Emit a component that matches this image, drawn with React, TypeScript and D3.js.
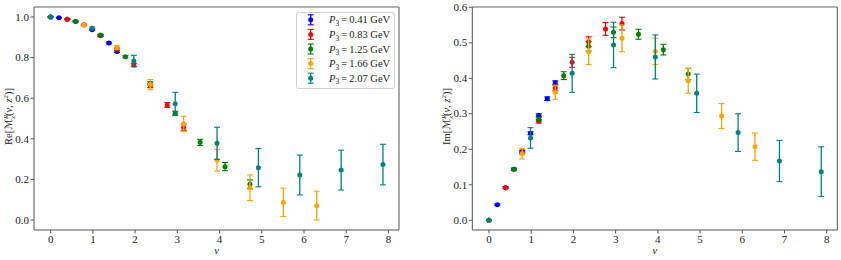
import React from "react";
import * as d3 from "d3";

const seriesNames = ["0.41", "0.83", "1.25", "1.66", "2.07"];
const seriesColors = ["blue", "red", "green", "orange", "teal"];

const nuBlue = [0, 0.197, 0.394, 0.59, 0.787, 0.984, 1.18, 1.38, 1.57];
const nuRed = [0, 0.394, 0.787, 1.18, 1.57, 1.97, 2.36, 2.76, 3.15];
const nuGreen = [0, 0.59, 1.18, 1.77, 2.36, 2.95, 3.54, 4.13, 4.72];
const nuOrange = [0, 0.787, 1.57, 2.36, 3.15, 3.94, 4.72, 5.51, 6.3];
const nuTeal = [0, 0.984, 1.97, 2.95, 3.94, 4.92, 5.9, 6.88, 7.87];

const reBlue = [1.0, 0.9966, 0.989, 0.978, 0.961, 0.9375, 0.908, 0.872, 0.83];
const reBlueErr = [0.001, 0.002, 0.002, 0.002, 0.003, 0.003, 0.004, 0.004, 0.005];
const reRed = [1.0, 0.989, 0.96, 0.909, 0.842, 0.7635, 0.662, 0.5665, 0.457];
const reRedErr = [0.001, 0.002, 0.003, 0.004, 0.006, 0.008, 0.01, 0.012, 0.015];
const reGreen = [1.0, 0.979, 0.911, 0.8045, 0.673, 0.5255, 0.3826, 0.263, 0.176];
const reGreenErr = [0.001, 0.003, 0.004, 0.005, 0.008, 0.01, 0.015, 0.02, 0.022];
const reOrange = [1.0, 0.961, 0.849, 0.667, 0.473, 0.294, 0.159, 0.087, 0.071];
const reOrangeErr = [0.002, 0.005, 0.01, 0.025, 0.038, 0.053, 0.063, 0.07, 0.071];
const reTeal = [1.0, 0.944, 0.783, 0.573, 0.378, 0.258, 0.222, 0.246, 0.273];
const reTealErr = [0.002, 0.006, 0.028, 0.056, 0.079, 0.094, 0.098, 0.098, 0.1];

const imBlue = [0, 0.044, 0.092, 0.1437, 0.194, 0.245, 0.2957, 0.3426, 0.3877];
const imBlueErr = [0.001, 0.002, 0.002, 0.003, 0.003, 0.004, 0.004, 0.005, 0.005];
const imRed = [0, 0.0918, 0.19, 0.279, 0.3727, 0.445, 0.503, 0.539, 0.554];
const imRedErr = [0.001, 0.002, 0.004, 0.005, 0.008, 0.014, 0.014, 0.018, 0.018];
const imGreen = [0, 0.1437, 0.2853, 0.4074, 0.49, 0.5295, 0.524, 0.4807, 0.412];
const imGreenErr = [0.001, 0.003, 0.005, 0.011, 0.013, 0.015, 0.014, 0.015, 0.016];
const imOrange = [0, 0.1877, 0.3606, 0.475, 0.5127, 0.476, 0.393, 0.2938, 0.2074];
const imOrangeErr = [0.001, 0.015, 0.02, 0.036, 0.038, 0.037, 0.035, 0.035, 0.0385];
const imTeal = [0, 0.232, 0.414, 0.4938, 0.46, 0.3577, 0.247, 0.167, 0.137];
const imTealErr = [0.001, 0.029, 0.0535, 0.064, 0.062, 0.054, 0.053, 0.058, 0.07];

const xTicks = [0, 1, 2, 3, 4, 5, 6, 7, 8];
const reTicks = [0, 0.2, 0.4, 0.6, 0.8, 1.0];
const imTicks = [0, 0.1, 0.2, 0.3, 0.4, 0.5, 0.6];

const nus = [nuBlue, nuRed, nuGreen, nuOrange, nuTeal];
const reVals = [reBlue, reRed, reGreen, reOrange, reTeal];
const reErrs = [reBlueErr, reRedErr, reGreenErr, reOrangeErr, reTealErr];
const imVals = [imBlue, imRed, imGreen, imOrange, imTeal];
const imErrs = [imBlueErr, imRedErr, imGreenErr, imOrangeErr, imTealErr];

const FONT = "'Liberation Serif', 'DejaVu Serif', serif";

type PanelProps = {
  x0: number;
  x1: number;
  yDomain: [number, number];
  yTicks: number[];
  vals: number[][];
  errs: number[][];
  labelX: number;
  prefix: string;
  legend?: boolean;
};

function Panel({ x0, x1, yDomain, yTicks, vals, errs, labelX, prefix, legend }: PanelProps) {
  const top = 7;
  const bottom = 230;
  const x = d3.scaleLinear().domain([-0.395, 8.25]).range([x0, x1]);
  const y = d3.scaleLinear().domain(yDomain).range([bottom, top]);
  const cap = 3;
  return (
    <g>
      {nus.map((nu, si) => (
        <g key={si}>
          {nu.map((n, i) => {
            const v = vals[si][i];
            const e = errs[si][i];
            const cx = x(n);
            const yt = y(v + e);
            const yb = y(v - e);
            const c = seriesColors[si];
            return (
              <g key={i}>
                <line x1={cx} x2={cx} y1={yt} y2={yb} stroke={c} strokeWidth={1.3} />
                <line x1={cx - cap} x2={cx + cap} y1={yt} y2={yt} stroke={c} strokeWidth={1.1} />
                <line x1={cx - cap} x2={cx + cap} y1={yb} y2={yb} stroke={c} strokeWidth={1.1} />
                <circle cx={cx} cy={y(v)} r={2.5} fill={c} />
              </g>
            );
          })}
        </g>
      ))}
      <line x1={x0} x2={x1} y1={top} y2={top} stroke="#999" strokeWidth={1.5} />
      <line x1={x0} x2={x0} y1={top} y2={bottom} stroke="#555" strokeWidth={1} />
      <line x1={x1} x2={x1} y1={top} y2={bottom} stroke="#555" strokeWidth={1} />
      <line x1={x0} x2={x1} y1={bottom} y2={bottom} stroke="#555" strokeWidth={1} />
      {xTicks.map((t) => (
        <g key={t}>
          <line x1={x(t)} x2={x(t)} y1={bottom} y2={bottom + 3.5} stroke="#555" />
          <text x={x(t)} y={243} textAnchor="middle" fontSize={11} fontFamily={FONT} fill="#222">
            {t}
          </text>
        </g>
      ))}
      {yTicks.map((t) => (
        <g key={t}>
          <line x1={x0 - 3.5} x2={x0} y1={y(t)} y2={y(t)} stroke="#555" />
          <text x={x0 - 5} y={y(t) + 3.7} textAnchor="end" fontSize={11} fontFamily={FONT} fill="#222">
            {t.toFixed(1)}
          </text>
        </g>
      ))}
      <text x={(x0 + x1) / 2} y={254} textAnchor="middle" fontSize={10.5} fontStyle="italic" fontFamily={FONT} fill="#222">
        ν
      </text>
      <text
        transform={`translate(${labelX},${(top + bottom) / 2 - 2}) rotate(-90)`}
        textAnchor="middle"
        fontSize={10.5}
        fontFamily={FONT}
        fill="#222"
      >
        <tspan>{prefix}[</tspan>
        <tspan fontFamily="'DejaVu Sans', sans-serif" fontSize={10}>ℳ</tspan>
        <tspan fontSize={7} dy={-4} fontStyle="italic">R</tspan>
        <tspan fontSize={7} dx={-4} dy={6.5} fontStyle="italic">z</tspan>
        <tspan dy={-2.5}>(</tspan>
        <tspan fontStyle="italic">ν</tspan>
        <tspan>, </tspan>
        <tspan fontStyle="italic">z</tspan>
        <tspan fontSize={7} dy={-4}>2</tspan>
        <tspan dy={4}>)]</tspan>
      </text>
      {legend && (
        <g>
          <rect x={296.5} y={12.5} width={98} height={76} rx={2.5} fill="white" fillOpacity={0.85} stroke="#d0d0d0" strokeWidth={1} />
          {seriesNames.map((nm, i) => {
            const ly = 19.8 + i * 14.6;
            const c = seriesColors[i];
            return (
              <g key={nm}>
                <line x1={310.7} x2={310.7} y1={ly - 5} y2={ly + 5} stroke={c} strokeWidth={1.3} />
                <line x1={307.7} x2={313.7} y1={ly - 5} y2={ly - 5} stroke={c} strokeWidth={1.1} />
                <line x1={307.7} x2={313.7} y1={ly + 5} y2={ly + 5} stroke={c} strokeWidth={1.1} />
                <circle cx={310.7} cy={ly} r={2.5} fill={c} />
                <text x={329} y={ly + 3.6} fontSize={10.5} fontFamily={FONT} fill="#222">
                  <tspan fontStyle="italic">P</tspan>
                  <tspan fontSize={7.5} dy={2.5}>3</tspan>
                  <tspan dy={-2.5}>{"\u2009=\u2009" + nm + " GeV"}</tspan>
                </text>
              </g>
            );
          })}
        </g>
      )}
    </g>
  );
}

export default function App() {
  return (
    <svg width={841} height={260} style={{ position: "absolute", left: 0, top: 0, background: "white" }}>
      <rect width={841} height={260} fill="white" />
      <Panel
        x0={34}
        x1={399}
        yDomain={[-0.049, 1.049]}
        yTicks={reTicks}
        vals={reVals}
        errs={reErrs}
        labelX={12}
        prefix="Re"
        legend
      />
      <Panel
        x0={472.3}
        x1={837.3}
        yDomain={[-0.0273, 0.6008]}
        yTicks={imTicks}
        vals={imVals}
        errs={imErrs}
        labelX={450}
        prefix="Im"
      />
    </svg>
  );
}
